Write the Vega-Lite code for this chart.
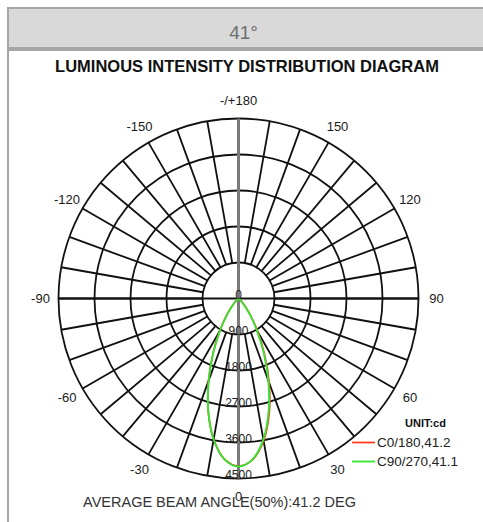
{
  "$schema": "https://vega.github.io/schema/vega-lite/v6.json",
  "padding": {"left": 7, "top": 7, "right": 0, "bottom": 0},
  "background": "white",
  "spacing": 0,
  "config": {
    "font": "Liberation Sans",
    "axisX": {"domain": false, "ticks": false, "labels": false, "grid": false, "titleX": 211, "titleY": -25, "titleAlign": "center", "titleBaseline": "middle", "titleFontSize": 14.5, "titleFontWeight": "normal", "titleColor": "#333333", "titleFont": "Liberation Sans", "minExtent": 0},
    "legend": {"symbolType": "stroke", "symbolSize": 529, "symbolStrokeWidth": 1.8, "labelFontSize": 13.5, "labelColor": "#222222", "labelOffset": 1, "titleFontSize": 11, "titleFontWeight": "bold", "titleColor": "#111111", "titleAnchor": "middle", "titleAlign": "left", "titlePadding": 1, "rowPadding": -3, "padding": 0, "offset": 0}
  },
  "vconcat": [
    {
      "width": 478,
      "height": 40,
      "view": {"fill": "#d9d9d9", "stroke": "#a6a6a6", "strokeWidth": 2},
      "data": {"values": [{"t": "41°"}]},
      "mark": {"type": "text", "fontSize": 19, "color": "#6e6e6e", "dx": -3.5, "dy": 4.5, "font": "Liberation Sans"},
      "encoding": {"text": {"field": "t"}}
    },
    {
      "width": 478,
      "height": 477,
      "view": {"fill": "white", "stroke": "#a6a6a6", "strokeWidth": 2},
      "title": {"text": "LUMINOUS INTENSITY DISTRIBUTION DIAGRAM", "orient": "top", "anchor": "middle", "offset": -33, "baseline": "middle", "fontSize": 16.5, "fontWeight": "bold", "color": "#111111", "font": "Liberation Sans"},
      "layer": [
        {
          "data": {"values": [{"r": 900}, {"r": 1800}, {"r": 2700}, {"r": 3600}, {"r": 4500}]},
          "mark": {"type": "arc", "filled": false, "stroke": "#111111", "strokeWidth": 1.8},
          "encoding": {
            "x": {"datum": 0, "type": "quantitative", "scale": {"type": "linear", "domain": [-5762.5, 6187.5], "nice": false, "zero": false}, "axis": {"title": "AVERAGE BEAM ANGLE(50%):41.2 DEG"}},
            "y": {"datum": 0, "type": "quantitative", "scale": {"type": "linear", "domain": [-5712.5, 6212.5], "nice": false, "zero": false}, "axis": null},
            "theta": {"datum": 180, "type": "quantitative", "stack": null, "scale": {"type": "linear", "domain": [180, -180], "range": [0, 6.283185307179586], "zero": false, "nice": false}},
            "theta2": {"datum": -180},
            "radius": {"field": "r", "type": "quantitative", "stack": null, "scale": {"type": "linear", "domain": [0, 4500], "range": [0, 180], "zero": true, "nice": false}}
          }
        },
        {
          "data": {"values": [
            {"g": -170}, {"g": -160}, {"g": -150}, {"g": -140}, {"g": -130}, {"g": -120}, {"g": -110}, {"g": -100}, {"g": -90},
            {"g": -80}, {"g": -70}, {"g": -60}, {"g": -50}, {"g": -40}, {"g": -30}, {"g": -20}, {"g": -10}, {"g": 0},
            {"g": 10}, {"g": 20}, {"g": 30}, {"g": 40}, {"g": 50}, {"g": 60}, {"g": 70}, {"g": 80}, {"g": 90},
            {"g": 100}, {"g": 110}, {"g": 120}, {"g": 130}, {"g": 140}, {"g": 150}, {"g": 160}, {"g": 170}, {"g": 180}
          ]},
          "mark": {"type": "arc", "filled": false, "stroke": "#111111", "strokeWidth": 1.8},
          "encoding": {
            "x": {"datum": 0, "type": "quantitative", "scale": {"type": "linear", "domain": [-5762.5, 6187.5], "nice": false, "zero": false}, "axis": {"title": "AVERAGE BEAM ANGLE(50%):41.2 DEG"}},
            "y": {"datum": 0, "type": "quantitative", "scale": {"type": "linear", "domain": [-5712.5, 6212.5], "nice": false, "zero": false}, "axis": null},
            "theta": {"field": "g", "type": "quantitative", "stack": null, "scale": {"type": "linear", "domain": [180, -180], "range": [0, 6.283185307179586], "zero": false, "nice": false}},
            "theta2": {"field": "g"},
            "radius": {"datum": 900, "type": "quantitative", "stack": null, "scale": {"type": "linear", "domain": [0, 4500], "range": [0, 180], "zero": true, "nice": false}},
            "radius2": {"datum": 4500}
          }
        },
        {
          "data": {"values": [{"g": 90}, {"g": -90}]},
          "mark": {"type": "arc", "filled": false, "stroke": "#111111", "strokeWidth": 1.8},
          "encoding": {
            "x": {"datum": 0, "type": "quantitative", "scale": {"type": "linear", "domain": [-5762.5, 6187.5], "nice": false, "zero": false}, "axis": {"title": "AVERAGE BEAM ANGLE(50%):41.2 DEG"}},
            "y": {"datum": 0, "type": "quantitative", "scale": {"type": "linear", "domain": [-5712.5, 6212.5], "nice": false, "zero": false}, "axis": null},
            "theta": {"field": "g", "type": "quantitative", "stack": null, "scale": {"type": "linear", "domain": [180, -180], "range": [0, 6.283185307179586], "zero": false, "nice": false}},
            "theta2": {"field": "g"},
            "radius": {"datum": 4500, "type": "quantitative", "stack": null, "scale": {"type": "linear", "domain": [0, 4500], "range": [0, 180], "zero": true, "nice": false}}
          }
        },
        {
          "data": {"values": [{"g": 180}, {"g": 0}]},
          "mark": {"type": "arc", "filled": false, "stroke": "#7a7a7a", "strokeWidth": 3},
          "encoding": {
            "x": {"datum": 0, "type": "quantitative", "scale": {"type": "linear", "domain": [-5762.5, 6187.5], "nice": false, "zero": false}, "axis": {"title": "AVERAGE BEAM ANGLE(50%):41.2 DEG"}},
            "y": {"datum": 0, "type": "quantitative", "scale": {"type": "linear", "domain": [-5712.5, 6212.5], "nice": false, "zero": false}, "axis": null},
            "theta": {"field": "g", "type": "quantitative", "stack": null, "scale": {"type": "linear", "domain": [180, -180], "range": [0, 6.283185307179586], "zero": false, "nice": false}},
            "theta2": {"field": "g"},
            "radius": {"datum": 4500, "type": "quantitative", "stack": null, "scale": {"type": "linear", "domain": [0, 4500], "range": [0, 180], "zero": true, "nice": false}}
          }
        },
        {
          "data": {"values": [
            {"c": "C0/180,41.2", "g": -70, "I": 0}, {"c": "C0/180,41.2", "g": -65, "I": 2}, {"c": "C0/180,41.2", "g": -60, "I": 5},
            {"c": "C0/180,41.2", "g": -55, "I": 14}, {"c": "C0/180,41.2", "g": -50, "I": 45}, {"c": "C0/180,41.2", "g": -45, "I": 115},
            {"c": "C0/180,41.2", "g": -40, "I": 262}, {"c": "C0/180,41.2", "g": -35, "I": 525}, {"c": "C0/180,41.2", "g": -30, "I": 935},
            {"c": "C0/180,41.2", "g": -25, "I": 1500}, {"c": "C0/180,41.2", "g": -20, "I": 2190}, {"c": "C0/180,41.2", "g": -15, "I": 2920},
            {"c": "C0/180,41.2", "g": -10, "I": 3575}, {"c": "C0/180,41.2", "g": -5, "I": 4030}, {"c": "C0/180,41.2", "g": 0, "I": 4190},
            {"c": "C0/180,41.2", "g": 5, "I": 4045}, {"c": "C0/180,41.2", "g": 10, "I": 3610}, {"c": "C0/180,41.2", "g": 15, "I": 2965},
            {"c": "C0/180,41.2", "g": 20, "I": 2235}, {"c": "C0/180,41.2", "g": 25, "I": 1535}, {"c": "C0/180,41.2", "g": 30, "I": 955},
            {"c": "C0/180,41.2", "g": 35, "I": 540}, {"c": "C0/180,41.2", "g": 40, "I": 270}, {"c": "C0/180,41.2", "g": 45, "I": 118},
            {"c": "C0/180,41.2", "g": 50, "I": 46}, {"c": "C0/180,41.2", "g": 55, "I": 15}, {"c": "C0/180,41.2", "g": 60, "I": 5},
            {"c": "C0/180,41.2", "g": 65, "I": 2}, {"c": "C0/180,41.2", "g": 70, "I": 0},
            {"c": "C90/270,41.1", "g": -70, "I": 0}, {"c": "C90/270,41.1", "g": -65, "I": 1}, {"c": "C90/270,41.1", "g": -60, "I": 4},
            {"c": "C90/270,41.1", "g": -55, "I": 12}, {"c": "C90/270,41.1", "g": -50, "I": 40}, {"c": "C90/270,41.1", "g": -45, "I": 108},
            {"c": "C90/270,41.1", "g": -40, "I": 252}, {"c": "C90/270,41.1", "g": -35, "I": 510}, {"c": "C90/270,41.1", "g": -30, "I": 918},
            {"c": "C90/270,41.1", "g": -25, "I": 1488}, {"c": "C90/270,41.1", "g": -20, "I": 2180}, {"c": "C90/270,41.1", "g": -15, "I": 2915},
            {"c": "C90/270,41.1", "g": -10, "I": 3580}, {"c": "C90/270,41.1", "g": -5, "I": 4035}, {"c": "C90/270,41.1", "g": 0, "I": 4200},
            {"c": "C90/270,41.1", "g": 5, "I": 4035}, {"c": "C90/270,41.1", "g": 10, "I": 3575}, {"c": "C90/270,41.1", "g": 15, "I": 2910},
            {"c": "C90/270,41.1", "g": 20, "I": 2175}, {"c": "C90/270,41.1", "g": 25, "I": 1485}, {"c": "C90/270,41.1", "g": 30, "I": 915},
            {"c": "C90/270,41.1", "g": 35, "I": 510}, {"c": "C90/270,41.1", "g": 40, "I": 250}, {"c": "C90/270,41.1", "g": 45, "I": 106},
            {"c": "C90/270,41.1", "g": 50, "I": 40}, {"c": "C90/270,41.1", "g": 55, "I": 12}, {"c": "C90/270,41.1", "g": 60, "I": 4},
            {"c": "C90/270,41.1", "g": 65, "I": 1}, {"c": "C90/270,41.1", "g": 70, "I": 0}
          ]},
          "transform": [
            {"calculate": "datum.I * sin(datum.g * PI / 180)", "as": "px"},
            {"calculate": "-datum.I * cos(datum.g * PI / 180)", "as": "py"}
          ],
          "mark": {"type": "line", "strokeWidth": 1.8, "interpolate": "catmull-rom"},
          "encoding": {
            "x": {"field": "px", "type": "quantitative", "scale": {"type": "linear", "domain": [-5762.5, 6187.5], "nice": false, "zero": false}, "axis": {"title": "AVERAGE BEAM ANGLE(50%):41.2 DEG"}},
            "y": {"field": "py", "type": "quantitative", "scale": {"type": "linear", "domain": [-5712.5, 6212.5], "nice": false, "zero": false}, "axis": null},
            "order": {"field": "g", "type": "quantitative"},
            "color": {"field": "c", "type": "nominal", "scale": {"domain": ["C0/180,41.2", "C90/270,41.1"], "range": ["#ff3b24", "#2fe82f"]},
              "legend": {"orient": "none", "legendX": 343, "legendY": 410, "title": "UNIT:cd"}}
          }
        },
        {
          "data": {"values": [{"v": 0, "t": "0"}, {"v": 900, "t": "900"}, {"v": 1800, "t": "1800"}, {"v": 2700, "t": "2700"}, {"v": 3600, "t": "3600"}, {"v": 4500, "t": "4500"}]},
          "mark": {"type": "text", "fontSize": 12, "color": "#222222", "align": "center", "baseline": "middle", "dy": -4},
          "encoding": {
            "x": {"datum": 0, "type": "quantitative", "scale": {"type": "linear", "domain": [-5762.5, 6187.5], "nice": false, "zero": false}, "axis": {"title": "AVERAGE BEAM ANGLE(50%):41.2 DEG"}},
            "y": {"datum": 0, "type": "quantitative", "scale": {"type": "linear", "domain": [-5712.5, 6212.5], "nice": false, "zero": false}, "axis": null},
            "theta": {"datum": 0, "type": "quantitative", "stack": null, "scale": {"type": "linear", "domain": [180, -180], "range": [0, 6.283185307179586], "zero": false, "nice": false}},
            "radius": {"field": "v", "type": "quantitative", "stack": null, "scale": {"type": "linear", "domain": [0, 4500], "range": [0, 180], "zero": true, "nice": false}},
            "text": {"field": "t"}
          }
        },
        {
          "data": {"values": [
            {"g": 180, "t": "-/+180"}, {"g": 150, "t": "150"}, {"g": 120, "t": "120"}, {"g": 90, "t": "90"},
            {"g": 60, "t": "60"}, {"g": 30, "t": "30"}, {"g": 0, "t": "0"}, {"g": -30, "t": "-30"},
            {"g": -60, "t": "-60"}, {"g": -90, "t": "-90"}, {"g": -120, "t": "-120"}, {"g": -150, "t": "-150"}
          ]},
          "mark": {"type": "text", "fontSize": 13, "color": "#1a1a1a", "align": "center", "baseline": "middle"},
          "encoding": {
            "x": {"datum": 0, "type": "quantitative", "scale": {"type": "linear", "domain": [-5762.5, 6187.5], "nice": false, "zero": false}, "axis": {"title": "AVERAGE BEAM ANGLE(50%):41.2 DEG"}},
            "y": {"datum": 0, "type": "quantitative", "scale": {"type": "linear", "domain": [-5712.5, 6212.5], "nice": false, "zero": false}, "axis": null},
            "theta": {"field": "g", "type": "quantitative", "stack": null, "scale": {"type": "linear", "domain": [180, -180], "range": [0, 6.283185307179586], "zero": false, "nice": false}},
            "radius": {"datum": 4950, "type": "quantitative", "stack": null, "scale": {"type": "linear", "domain": [0, 4500], "range": [0, 180], "zero": true, "nice": false}},
            "text": {"field": "t"}
          }
        }
      ]
    }
  ]
}
